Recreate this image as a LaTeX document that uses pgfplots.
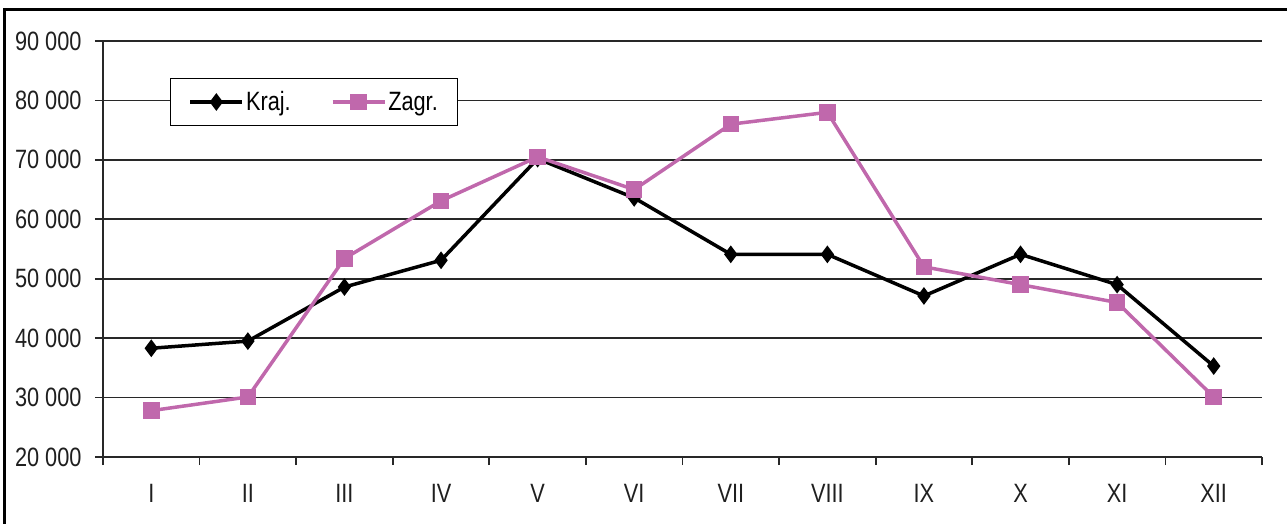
\documentclass[border=0pt]{standalone}
\usepackage{fontspec}
\setmainfont[FakeStretch=0.82]{Liberation Sans}
\usepackage{pgfplots}
\pgfplotsset{compat=1.18}
\definecolor{zagr}{RGB}{192,104,172}
\definecolor{gridc}{RGB}{40,40,40}
\begin{document}
\begin{tikzpicture}
\begin{axis}[
  at={(0pt,0pt)}, anchor=south west,
  scale only axis, width=1159pt, height=416pt,
  xmin=0.5, xmax=12.5, ymin=20000, ymax=90000,
  xtick={0.5,1.5,2.5,3.5,4.5,5.5,6.5,7.5,8.5,9.5,10.5,11.5,12.5},
  x tick label as interval,
  xticklabels={I,II,III,IV,V,VI,VII,VIII,IX,X,XI,XII},
  ytick={20000,30000,40000,50000,60000,70000,80000,90000},
  scaled y ticks=false,
  /pgf/number format/assume math mode=true,
  /pgf/number format/1000 sep={\ },
  axis x line*=bottom, axis y line*=left,
  axis line style={line width=1.8pt, color=gridc},
  ymajorgrids, major grid style={line width=1.8pt, color=gridc},
  tick style={line width=1.8pt, color=gridc},
  major tick length=8pt, tick align=outside,
  tick label style={font=\fontsize{26.5}{26.5}\selectfont, text=black!88},
  yticklabel style={xshift=-10pt},
  xticklabel style={yshift=-16pt},
  legend style={at={(0.0578,0.911)}, anchor=north west, draw=black, line width=1.2pt,
    fill=white, font=\fontsize{26.5}{26.5}\selectfont, inner xsep=18pt, inner ysep=11pt,
    /tikz/every even column/.append style={column sep=38pt}},
  legend columns=2,
  legend image code/.code={\draw[mark repeat=2,mark phase=2] plot coordinates {(0pt,0pt) (26pt,0pt) (52pt,0pt)};},
]
\addplot[black, line width=3.5pt, mark=diamond*, mark size=6pt, mark options={solid}] coordinates {
(1,38300) (2,39500) (3,48600) (4,53100) (5,70200) (6,63600)
(7,54100) (8,54100) (9,47100) (10,54100) (11,49000) (12,35300)};
\addlegendentry{Kraj.}
\addplot[zagr, line width=3.5pt, mark=square*, mark size=6.5pt, mark options={solid}] coordinates {
(1,27800) (2,30100) (3,53400) (4,63100) (5,70500) (6,65000)
(7,76000) (8,78000) (9,52000) (10,49000) (11,46000) (12,30100)};
\addlegendentry{Zagr.}
\end{axis}
\draw[line width=3pt] (-98pt,-100pt) -- (-98pt,447pt) -- (1300pt,447pt);
\pgfresetboundingbox
\useasboundingbox (-103pt,-67pt) rectangle (1184pt,457pt);
\end{tikzpicture}
\end{document}
